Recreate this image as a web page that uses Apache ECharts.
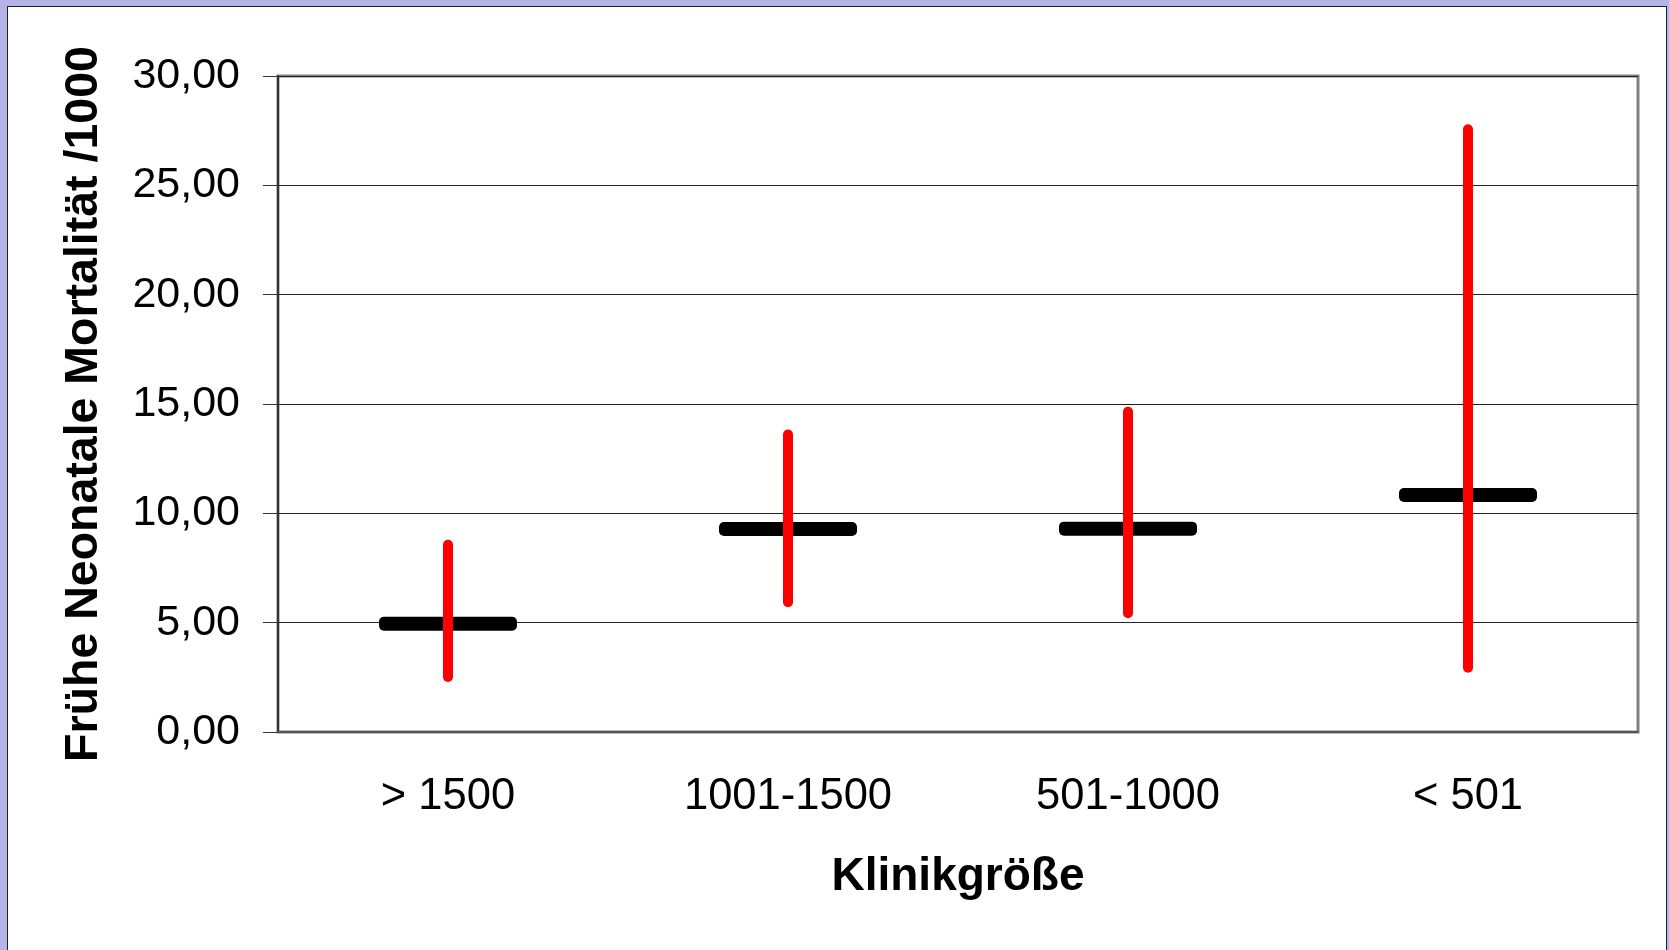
<!DOCTYPE html>
<html>
<head>
<meta charset="utf-8">
<script src="https://cdn.jsdelivr.net/npm/echarts@6/dist/echarts.min.js"></script>
<style>
html,body{margin:0;padding:0;width:1669px;height:950px;overflow:hidden;background:#b4b4e6;}
#panel{position:absolute;left:7px;top:6px;width:1658px;height:960px;background:#fff;border:1px solid #222;}
#chart{position:absolute;left:0;top:0;width:1669px;height:950px;}
</style>
</head>
<body>
<div id="panel"></div>
<div id="chart"></div>
<script>
var categories = ['> 1500', '1001-1500', '501-1000', '< 501'];
var meanValues = [4.95, 9.28, 9.30, 10.84];
var lowerValues = [2.52, 5.93, 5.43, 2.94];
var upperValues = [8.56, 13.60, 14.65, 27.56];
var yTicks = [0, 5, 10, 15, 20, 25, 30];

var data = categories.map(function (c, i) {
  return [i, lowerValues[i], upperValues[i], meanValues[i]];
});

var chart = echarts.init(document.getElementById('chart'), null, {renderer: 'canvas'});
var font = 'Liberation Sans, Arial, sans-serif';
chart.setOption({
  backgroundColor: 'transparent',
  animation: false,
  grid: {
    left: 278, top: 76, right: 31, bottom: 218,
    show: true, borderColor: '#808080', borderWidth: 3, backgroundColor: 'transparent'
  },
  xAxis: {
    type: 'category',
    data: categories,
    boundaryGap: true,
    name: 'Klinikgröße',
    nameLocation: 'middle',
    nameGap: 122,
    nameTextStyle: {fontFamily: font, fontSize: 46, fontWeight: 'bold', color: '#000'},
    axisLine: {show: true, lineStyle: {color: '#555', width: 2}},
    axisTick: {show: false},
    axisLabel: {fontFamily: font, fontSize: 43.5, color: '#000', margin: 43},
    splitLine: {show: false}
  },
  yAxis: {
    type: 'value',
    min: yTicks[0], max: yTicks[yTicks.length - 1], interval: 5,
    name: 'Frühe Neonatale Mortalität /1000',
    nameLocation: 'middle',
    nameGap: 170,
    nameRotate: 90,
    nameTextStyle: {fontFamily: font, fontSize: 46.5, fontWeight: 'bold', color: '#000'},
    axisLine: {show: true, lineStyle: {color: '#333', width: 2}},
    axisTick: {show: true, length: 15, lineStyle: {color: '#333', width: 1}},
    axisLabel: {
      fontFamily: font, fontSize: 43, color: '#000', margin: 38,
      formatter: function (v) { return v.toFixed(2).replace('.', ','); }
    },
    splitLine: {show: true, lineStyle: {color: '#222', width: 1}}
  },
  series: [{
    type: 'custom',
    data: data,
    encode: {x: 0, y: [1, 2, 3]},
    renderItem: function (params, api) {
      var x = api.value(0);
      var lo = api.coord([x, api.value(1)]);
      var hi = api.coord([x, api.value(2)]);
      var m = api.coord([x, api.value(3)]);
      return {
        type: 'group',
        children: [
          {type: 'rect', shape: {x: m[0] - 69, y: m[1] - 7, width: 138, height: 14, r: 5},
           style: {fill: '#000'}},
          {type: 'line', shape: {x1: lo[0], y1: lo[1], x2: hi[0], y2: hi[1]},
           style: {stroke: '#ff0000', lineWidth: 10, lineCap: 'round'}}
        ]
      };
    }
  }]
});
</script>
</body>
</html>
